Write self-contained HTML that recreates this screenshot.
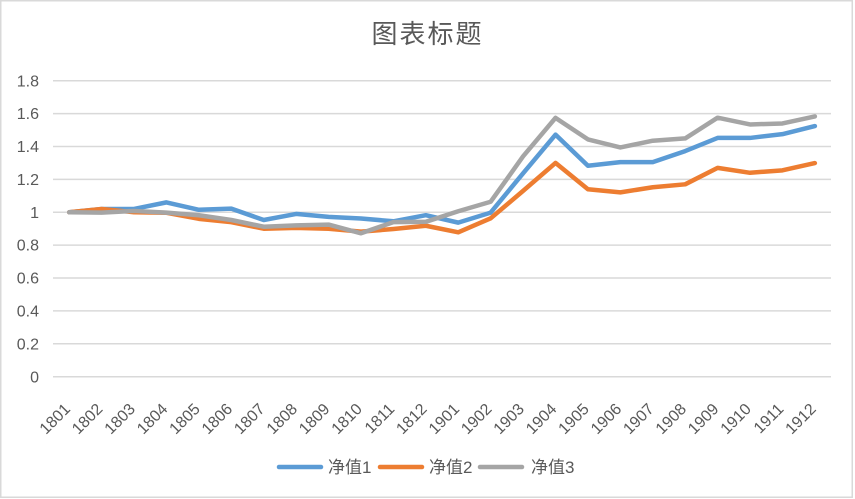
<!DOCTYPE html>
<html><head><meta charset="utf-8"><style>
html,body{margin:0;padding:0;background:#fff;}
svg{display:block;}
text{font-family:"Liberation Sans","Noto Sans CJK SC",sans-serif;fill:#595959;}
</style></head><body>
<svg width="855" height="499" viewBox="0 0 855 499" xmlns="http://www.w3.org/2000/svg">
<rect x="0" y="0" width="855" height="499" fill="#fff"/>
<rect x="0.75" y="0.75" width="851.5" height="496.5" fill="none" stroke="#d9d9d9" stroke-width="1.5"/>
<text x="427.5" y="43" text-anchor="middle" font-size="26" letter-spacing="2" style="font-family:'Noto Sans CJK SC',sans-serif">图表标题</text>
<g stroke="#d9d9d9" stroke-width="1.5">
<line x1="53" x2="831" y1="80.7" y2="80.7"/>
<line x1="53" x2="831" y1="113.6" y2="113.6"/>
<line x1="53" x2="831" y1="146.5" y2="146.5"/>
<line x1="53" x2="831" y1="179.4" y2="179.4"/>
<line x1="53" x2="831" y1="212.3" y2="212.3"/>
<line x1="53" x2="831" y1="245.1" y2="245.1"/>
<line x1="53" x2="831" y1="278.0" y2="278.0"/>
<line x1="53" x2="831" y1="310.9" y2="310.9"/>
<line x1="53" x2="831" y1="343.8" y2="343.8"/>
<line x1="53" x2="831" y1="376.7" y2="376.7"/>
</g>
<g font-size="16" text-anchor="end">
<text x="39" y="86.3">1.8</text>
<text x="39" y="119.2">1.6</text>
<text x="39" y="152.1">1.4</text>
<text x="39" y="185.0">1.2</text>
<text x="39" y="217.9">1</text>
<text x="39" y="250.7">0.8</text>
<text x="39" y="283.6">0.6</text>
<text x="39" y="316.5">0.4</text>
<text x="39" y="349.4">0.2</text>
<text x="39" y="382.3">0</text>
</g>
<g font-size="16" text-anchor="end">
<text transform="translate(71.2,410) rotate(-45)">1801</text>
<text transform="translate(103.6,410) rotate(-45)">1802</text>
<text transform="translate(136.1,410) rotate(-45)">1803</text>
<text transform="translate(168.5,410) rotate(-45)">1804</text>
<text transform="translate(200.9,410) rotate(-45)">1805</text>
<text transform="translate(233.3,410) rotate(-45)">1806</text>
<text transform="translate(265.7,410) rotate(-45)">1807</text>
<text transform="translate(298.2,410) rotate(-45)">1808</text>
<text transform="translate(330.6,410) rotate(-45)">1809</text>
<text transform="translate(363.0,410) rotate(-45)">1810</text>
<text transform="translate(395.4,410) rotate(-45)">1811</text>
<text transform="translate(427.8,410) rotate(-45)">1812</text>
<text transform="translate(460.3,410) rotate(-45)">1901</text>
<text transform="translate(492.7,410) rotate(-45)">1902</text>
<text transform="translate(525.1,410) rotate(-45)">1903</text>
<text transform="translate(557.5,410) rotate(-45)">1904</text>
<text transform="translate(589.9,410) rotate(-45)">1905</text>
<text transform="translate(622.4,410) rotate(-45)">1906</text>
<text transform="translate(654.8,410) rotate(-45)">1907</text>
<text transform="translate(687.2,410) rotate(-45)">1908</text>
<text transform="translate(719.6,410) rotate(-45)">1909</text>
<text transform="translate(752.0,410) rotate(-45)">1910</text>
<text transform="translate(784.5,410) rotate(-45)">1911</text>
<text transform="translate(816.9,410) rotate(-45)">1912</text>
</g>
<g fill="none" stroke-width="4.5" stroke-linejoin="round" stroke-linecap="round">
<polyline stroke="#5B9BD5" points="69.21,212.26 101.63,208.97 134.05,208.97 166.47,202.39 198.89,209.79 231.31,208.64 263.73,220.0 296.15,213.9 328.57,216.86 360.99,218.51 393.41,221.3 425.83,215.22 458.25,222.62 490.67,212.59 523.09,173.29 555.51,134.64 587.93,165.72 620.35,162.11 652.77,162.11 685.19,151.09 717.61,137.93 750.03,137.93 782.45,134.15 814.87,126.09"/>
<polyline stroke="#ED7D31" points="69.21,212.26 101.63,208.97 134.05,212.26 166.47,212.75 198.89,218.84 231.31,222.13 263.73,228.7 296.15,227.88 328.57,228.7 360.99,231.66 393.41,229.03 425.83,225.74 458.25,232.32 490.67,218.34 523.09,190.88 555.51,162.93 587.93,189.24 620.35,192.36 652.77,187.27 685.19,184.31 717.61,167.86 750.03,172.79 782.45,170.33 814.87,163.09"/>
<polyline stroke="#A5A5A5" points="69.21,212.26 101.63,212.59 134.05,210.94 166.47,212.59 198.89,215.22 231.31,220.0 263.73,226.73 296.15,225.42 328.57,224.59 360.99,233.31 393.41,222.13 425.83,221.8 458.25,211.27 490.67,201.74 523.09,156.35 555.51,117.87 587.93,139.41 620.35,147.47 652.77,140.73 685.19,138.43 717.61,117.7 750.03,124.45 782.45,123.46 814.87,116.39"/>
</g>
<g stroke-width="4.5" stroke-linecap="round">
<line x1="279" x2="321" y1="467" y2="467" stroke="#5B9BD5"/>
<line x1="380" x2="422" y1="467" y2="467" stroke="#ED7D31"/>
<line x1="480" x2="522" y1="467" y2="467" stroke="#A5A5A5"/>
</g>
<g font-size="17">
<text x="328" y="473">净值1</text>
<text x="429" y="473">净值2</text>
<text x="531" y="473">净值3</text>
</g>
</svg>
</body></html>
